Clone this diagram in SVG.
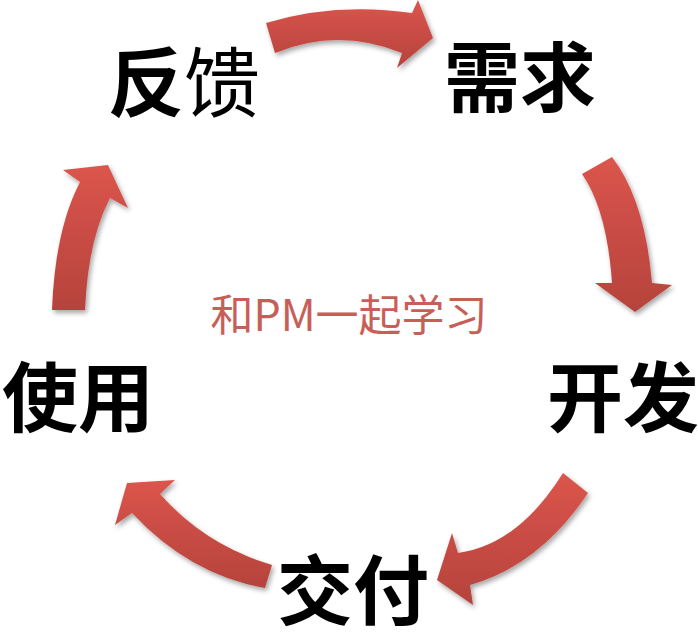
<svg xmlns="http://www.w3.org/2000/svg" width="698" height="634" viewBox="0 0 698 634">
  <defs>
    <linearGradient id="g" x1="0" y1="0" x2="0" y2="1">
      <stop offset="0" stop-color="#db554c"/>
      <stop offset="1" stop-color="#b5433c"/>
    </linearGradient>
    <filter id="sh" x="-20%" y="-20%" width="140%" height="140%">
      <feDropShadow dx="2" dy="3" stdDeviation="2.5" flood-color="#000" flood-opacity="0.35"/>
    </filter>
    <style>
      .lbl{font-family:"Noto Sans CJK SC","Noto Sans",sans-serif;font-weight:700;font-size:76px;fill:#000;text-anchor:middle}
      .ctr{font-family:"Noto Sans CJK SC","Liberation Sans",sans-serif;font-size:43px;fill:#c85e58;text-anchor:middle}
      .arr{fill:url(#g);filter:url(#sh)}
    </style>
  </defs>
  <rect width="698" height="634" fill="#fff"/>
  <g id="connectors">
    <path class="arr" d="M266,23 Q335,2 412,13 L418,0 L433,38 L397,68 L402,53 Q338,27 275,53 Z"/>
    <path class="arr" d="M612,157 Q645,200 652,283 L672,285 L635,312 L595,283 L612,283 Q607,210 582,174 Z"/>
    <path class="arr" d="M563,473 L588,493 Q540,565 470,585 L473,605 L437,580 L452,533 L458,553 Q518,545 563,473 Z"/>
    <path class="arr" d="M272,565 L265,588 Q190,575 132,513 L115,525 L127,483 L175,480 L160,494 Q205,545 272,565 Z"/>
    <path class="arr" d="M52,310 L85,310 Q88,240 110,198 L128,208 L108,165 L63,170 L80,182 Q55,230 52,310 Z"/>
  </g>
  <g id="node-feedback"><text class="lbl" x="184" y="111">反<tspan font-weight="400">馈</tspan></text></g>
  <g id="node-requirements"><text class="lbl" x="520" y="106">需求</text></g>
  <g id="node-develop"><text class="lbl" x="623" y="426">开发</text></g>
  <g id="node-deliver"><text class="lbl" x="353" y="619">交付</text></g>
  <g id="node-use"><text class="lbl" x="78" y="426">使用</text></g>
  <g id="center"><text class="ctr" x="349" y="331">和PM一起学习</text></g>
</svg>
